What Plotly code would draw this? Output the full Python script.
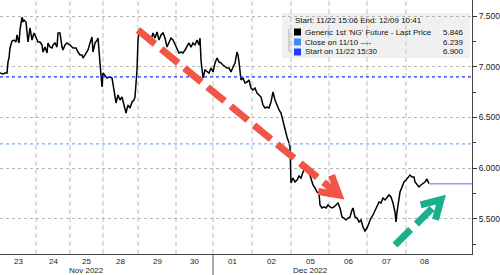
import math
import plotly.graph_objects as go

# ---------------- data ----------------
# trading-time index (compressed, weekends removed)
times = [
    0, 3, 5, 7, 8, 9, 10, 12, 14, 16,
    17, 19, 20, 22, 23, 24, 26, 28, 30, 32,
    34, 36, 38, 40, 42, 43, 45, 47, 48, 50,
    52, 53, 55, 57, 58, 60, 61, 62, 63, 65,
    67, 70, 73, 76, 78, 80, 82, 83, 85, 88,
    90, 92, 93, 95, 97, 98, 100, 102, 103, 105,
    107, 110, 112, 114, 116, 118, 120, 122, 124, 126,
    128, 130, 132, 134, 135, 137, 138, 139, 141, 144,
    147, 149, 151, 153, 155, 157, 159, 161, 163, 165,
    167, 169, 171, 173, 175, 177, 179, 181, 183, 185,
    187, 189, 191, 193, 195, 197, 199, 200, 201, 202,
    203, 205, 207, 209, 211, 213, 215, 217, 219, 221,
    223, 225, 227, 229, 231, 233, 235, 237, 238, 239,
    240, 241, 243, 245, 247, 249, 251, 253, 255, 257,
    259, 261, 263, 265, 267, 269, 271, 273, 275, 277,
    279, 281, 283, 285, 287, 289, 290, 291, 293, 295,
    297, 299, 301, 303, 305, 307, 309, 311, 313, 315,
    317, 319, 320, 322, 324, 326, 328, 330, 332, 334,
    336, 338, 340, 342, 344, 346, 348, 350, 352, 353,
    355, 357, 359, 361, 363, 365, 367, 369, 371, 373,
    375, 377, 379, 381, 383, 385, 387, 389, 391, 393,
    395, 396, 397, 399, 400, 402, 404, 406, 408, 410,
    412, 414, 415, 417, 419, 421, 423, 425, 427, 429,
]
prices = [
    6.938, 6.928, 6.938, 6.938, 7.047, 7.086, 7.185, 7.254, 7.263, 7.244,
    7.313, 7.234, 7.362, 7.490, 7.441, 7.461, 7.441, 7.244, 7.382, 7.263,
    7.333, 7.293, 7.244, 7.244, 7.214, 7.145, 7.194, 7.135, 7.234, 7.194,
    7.185, 7.214, 7.234, 7.194, 7.333, 7.333, 7.244, 7.194, 7.165, 7.214,
    7.234, 7.214, 7.185, 7.185, 7.145, 7.116, 7.116, 7.086, 7.116, 7.165,
    7.234, 7.293, 7.145, 7.234, 7.263, 7.283, 7.037, 6.800, 6.938, 6.918,
    6.889, 6.899, 6.889, 6.770, 6.642, 6.721, 6.672, 6.701, 6.622, 6.544,
    6.622, 6.593, 6.652, 6.672, 6.701, 6.968, 7.263, 7.342, 7.313, 7.293,
    7.283, 7.244, 7.263, 7.333, 7.283, 7.342, 7.263, 7.313, 7.333, 7.283,
    7.194, 7.244, 7.283, 7.263, 7.214, 7.165, 7.135, 7.145, 7.135, 7.165,
    7.194, 7.234, 7.194, 7.234, 7.214, 7.263, 7.214, 7.283, 7.066, 6.938,
    6.889, 6.968, 6.948, 6.938, 6.987, 6.948, 7.037, 7.086, 7.047, 7.037,
    7.017, 6.997, 6.987, 6.987, 6.948, 6.997, 7.037, 7.145, 7.116, 7.047,
    6.938, 6.869, 6.889, 6.840, 6.849, 6.869, 6.790, 6.770, 6.790, 6.741,
    6.721, 6.701, 6.622, 6.593, 6.603, 6.593, 6.652, 6.751, 6.672, 6.622,
    6.573, 6.544, 6.455, 6.376, 6.307, 6.248, 6.208, 5.853, 5.902, 5.863,
    5.883, 5.922, 5.902, 5.962, 6.001, 6.031, 5.962, 5.883, 5.834, 5.804,
    5.764, 5.755, 5.636, 5.607, 5.617, 5.607, 5.636, 5.617, 5.607, 5.617,
    5.636, 5.656, 5.607, 5.518, 5.508, 5.488, 5.508, 5.518, 5.587, 5.607,
    5.518, 5.508, 5.469, 5.488, 5.419, 5.380, 5.409, 5.469, 5.508, 5.538,
    5.587, 5.617, 5.666, 5.656, 5.705, 5.686, 5.715, 5.735, 5.715, 5.656,
    5.567, 5.469, 5.567, 5.686, 5.764, 5.814, 5.863, 5.883, 5.912, 5.932,
    5.912, 5.912, 5.863, 5.843, 5.814, 5.834, 5.853, 5.863, 5.893, 5.846,
]
session_edges = [0, 36, 70, 103, 138, 176, 213, 252, 291, 329, 367, 406, 442]
day_labels = ["23", "24", "25", "28", "29", "30", "01", "02", "05", "06", "07", "08"]
month_labels = ["Nov 2022", "Dec 2022"]
month_label_day = ["25", "05"]
month_break_day = "01"

last_price = 5.846
close_1110 = 6.239
start_1122 = 6.900
legend_title = "Start: 11/22 15:06 End: 12/09 10:41"
legend_names = ["Generic 1st 'NG' Future - Last Price", "Close on 11/10 ----", "Start on 11/22 15:30"]
legend_values = [last_price, close_1110, start_1122]

# ---------------- layout constants ----------------
W, H = 500, 275
ML, MR, MT, MB = 0, 28, 0, 21
PW, PH = W - ML - MR, H - MT - MB
X_RANGE = [0, 472]
Y_RANGE = [5.153, 7.658]
FONT = "Liberation Sans"

def px_to_paper(px, py):
    return px / PW, 1 - py / PH

fig = go.Figure()

fig.add_trace(go.Scatter(
    x=times, y=prices, mode="lines",
    line=dict(color="black", width=1.5),
    hoverinfo="skip", showlegend=False,
))

shapes = []
# legend box (translucent, under grid)
bx0, by0 = px_to_paper(282, 13)
bx1, by1 = px_to_paper(470, 58)
shapes.append(dict(type="rect", xref="paper", yref="paper", x0=bx0, x1=bx1, y0=by1, y1=by0,
                   fillcolor="rgba(238,238,238,0.9)", line=dict(width=0), layer="below"))

# vertical dashed day gridlines
for e in session_edges[1:-1]:
    shapes.append(dict(type="line", xref="x", yref="paper", x0=e, x1=e, y0=0, y1=1,
                       line=dict(color="#bdbdbd", width=1, dash="5px,3px"), layer="below"))

# month separator below axis
mb = session_edges[day_labels.index(month_break_day)]
shapes.append(dict(type="line", xref="x", yref="paper", x0=mb, x1=mb, y0=-MB / PH, y1=0,
                   line=dict(color="#555555", width=1)))

# reference lines
shapes.append(dict(type="line", xref="paper", yref="y", x0=0, x1=1, y0=start_1122, y1=start_1122,
                   line=dict(color="#1f2fff", width=1.2, dash="dot")))
shapes.append(dict(type="line", xref="paper", yref="y", x0=0, x1=1, y0=close_1110, y1=close_1110,
                   line=dict(color="#7fa6ff", width=1.2, dash="dot")))
shapes.append(dict(type="line", xref="x", yref="y", x0=times[-1], x1=X_RANGE[1], y0=last_price, y1=last_price,
                   line=dict(color="#8c9cff", width=1.5)))

# arrows (decorations): shaft + open V head, computed in pixel space
sx = PW / (X_RANGE[1] - X_RANGE[0])
sy = PH / (Y_RANGE[1] - Y_RANGE[0])

def arrow(t0, p0, t1, p1, color, arm=21):
    shapes.append(dict(type="line", xref="x", yref="y", x0=t0, y0=p0, x1=t1, y1=p1,
                       line=dict(color=color, width=7, dash="22px,8px")))
    dx, dy = (t1 - t0) * sx, (p1 - p0) * sy
    L = math.hypot(dx, dy)
    ux, uy = -dx / L, -dy / L
    pts = []
    for ang in (math.radians(30), math.radians(-30)):
        c, s = math.cos(ang), math.sin(ang)
        vx, vy = ux * c - uy * s, ux * s + uy * c
        pts.append((t1 + vx * arm / sx, p1 + vy * arm / sy))
    path = "M {},{} L {},{} L {},{}".format(pts[0][0], pts[0][1], t1, p1, pts[1][0], pts[1][1])
    shapes.append(dict(type="path", xref="x", yref="y", path=path,
                       line=dict(color=color, width=7)))

arrow(138, 7.362, 339, 5.735, "#f25546")
arrow(395, 5.242, 441, 5.690, "#19b08e")

# legend swatches and connector
sw_colors = ["#000000", "#3d8bff", "#1f3cff"]
row_y = [32, 42, 52]
for c, ry in zip(sw_colors, row_y):
    x0, y0 = px_to_paper(294, ry - 3.5)
    x1, y1 = px_to_paper(301, ry + 3.5)
    shapes.append(dict(type="rect", xref="paper", yref="paper", x0=x0, x1=x1, y0=y1, y1=y0,
                       fillcolor=c, line=dict(width=0)))
cx0, cy0 = px_to_paper(289, 29)
cx1, cy1 = px_to_paper(289, 52)
shapes.append(dict(type="line", xref="paper", yref="paper", x0=cx0, x1=cx1, y0=cy0, y1=cy1,
                   line=dict(color="#b0b0b0", width=1)))

annotations = []
tx, ty = px_to_paper(293, 21)
annotations.append(dict(text=legend_title, xref="paper", yref="paper", x=tx, y=ty,
                        xanchor="left", yanchor="middle", showarrow=False,
                        font=dict(family=FONT, size=8, color="#111")))
for name, val, ry in zip(legend_names, legend_values, row_y):
    nx, ny = px_to_paper(303, ry)
    vx, _ = px_to_paper(466, ry)
    annotations.append(dict(text=name, xref="paper", yref="paper", x=nx, y=ny,
                            xanchor="left", yanchor="middle", showarrow=False,
                            font=dict(family=FONT, size=8, color="#111")))
    annotations.append(dict(text="{:.3f}".format(val), xref="paper", yref="paper", x=vx, y=ny,
                            xanchor="right", yanchor="middle", showarrow=False,
                            font=dict(family=FONT, size=8, color="#111")))

# day labels and month labels (two stacked rows under the axis)
centers = [(a + b) / 2 for a, b in zip(session_edges[:-1], session_edges[1:])]
for d, cx in zip(day_labels, centers):
    annotations.append(dict(text=d, xref="x", yref="paper", x=cx, y=-7 / PH,
                            xanchor="center", yanchor="middle", showarrow=False,
                            font=dict(family=FONT, size=8, color="#222")))
for m, d in zip(month_labels, month_label_day):
    annotations.append(dict(text=m, xref="x", yref="paper", x=centers[day_labels.index(d)],
                            y=-16.5 / PH, xanchor="center", yanchor="middle", showarrow=False,
                            font=dict(family=FONT, size=8, color="#222")))

fig.update_layout(
    width=W, height=H,
    margin=dict(l=ML, r=MR, t=MT, b=MB, pad=0),
    paper_bgcolor="white", plot_bgcolor="white",
    showlegend=False,
    shapes=shapes, annotations=annotations,
    xaxis=dict(range=X_RANGE, showticklabels=False,
               showgrid=False, zeroline=False, showline=True, linecolor="#444", linewidth=1,
               ticks="", fixedrange=True),
    yaxis=dict(range=Y_RANGE, side="right", tickmode="linear", tick0=5.5, dtick=0.5,
               tickformat=".3f", ticks="outside", ticklen=4, tickcolor="#333",
               showgrid=True, gridcolor="#b5b5b5", griddash="dot", gridwidth=1,
               minor=dict(dtick=0.25, tick0=5.5, ticks="outside", ticklen=3, tickcolor="#333", showgrid=False),
               zeroline=False, showline=True, linecolor="#444", linewidth=1,
               tickfont=dict(family=FONT, size=8.5, color="#222"), fixedrange=True),
)

fig.write_html("out.html")
